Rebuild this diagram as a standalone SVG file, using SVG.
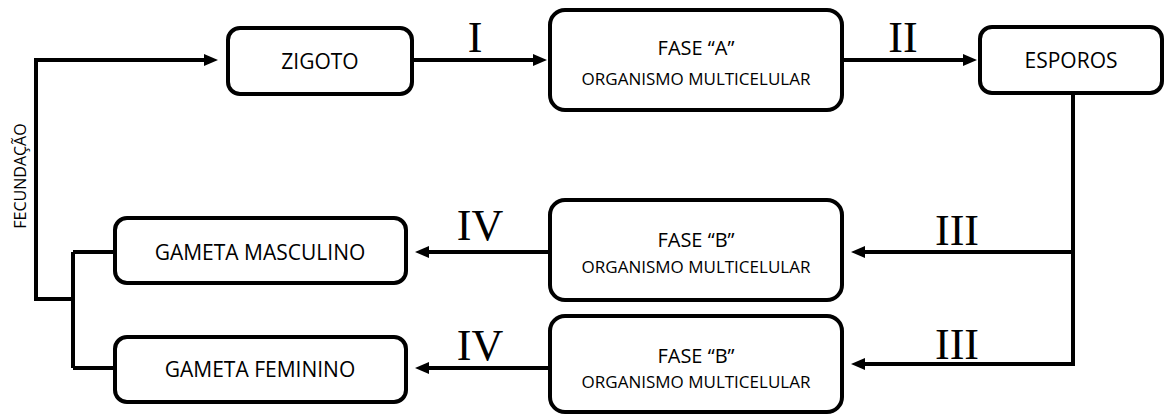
<svg xmlns="http://www.w3.org/2000/svg" width="1165" height="414" viewBox="0 0 1165 414">
<style>
.box{fill:#fff;stroke:#000;stroke-width:4}
.t{font-family:"Open Sans","Noto Sans",sans-serif;fill:#000;text-anchor:middle}
.big{font-size:21px}
.mid{font-size:20px}
.small{font-size:17px}
.rn{font-family:"Liberation Serif","Times New Roman",serif;font-size:44px;fill:#000;text-anchor:middle}
.c{fill:none;stroke:#000;stroke-width:4;stroke-linejoin:miter}
.a{marker-end:url(#arr)}
</style>
<defs>
<marker id="arr" markerUnits="userSpaceOnUse" markerWidth="14" markerHeight="12" refX="6" refY="6" orient="auto" overflow="visible">
<path d="M0,0 L14,6 L0,12 z" fill="#000"/>
</marker>
</defs>
<rect width="1165" height="414" fill="#fff"/>
<g id="connectors">
<path class="c a" d="M73,299 H36 V60 H210"/>
<path class="c" d="M73,252 V368"/>
<path class="c" d="M73,252 H115"/>
<path class="c" d="M73,368 H115"/>
<path class="c a" d="M412,60 H539"/>
<path class="c a" d="M842,60 H969"/>
<path class="c a" d="M1073,93 V364 H859"/>
<path class="c a" d="M1073,252 H859"/>
<path class="c a" d="M550,252 H423"/>
<path class="c a" d="M550,368 H423"/>
</g>
<g id="labels">
<text class="rn" x="475" y="52">I</text>
<text class="rn" x="903" y="52">II</text>
<text class="rn" x="957" y="245">III</text>
<text class="rn" x="957" y="359">III</text>
<text class="rn" x="480" y="240">IV</text>
<text class="rn" x="480" y="360">IV</text>
<text class="t" font-size="16" transform="translate(26,176) rotate(-90)">FECUNDAÇÃO</text>
</g>
<g id="zigoto">
<rect class="box" x="228" y="28" width="184" height="66" rx="12"/>
<text class="t big" x="320" y="69">ZIGOTO</text>
</g>
<g id="faseA">
<rect class="box" x="550" y="10" width="292" height="100" rx="15"/>
<text class="t mid" x="696" y="55">FASE “A”</text>
<text class="t small" x="696" y="85">ORGANISMO MULTICELULAR</text>
</g>
<g id="esporos">
<rect class="box" x="980" y="27" width="182" height="66" rx="12"/>
<text class="t big" x="1071" y="68">ESPOROS</text>
</g>
<g id="faseB1">
<rect class="box" x="550" y="200" width="292" height="100" rx="15"/>
<text class="t mid" x="696" y="247">FASE “B”</text>
<text class="t small" x="696" y="273">ORGANISMO MULTICELULAR</text>
</g>
<g id="faseB2">
<rect class="box" x="550" y="316" width="292" height="96" rx="15"/>
<text class="t mid" x="696" y="363">FASE “B”</text>
<text class="t small" x="696" y="388">ORGANISMO MULTICELULAR</text>
</g>
<g id="gametaMasculino">
<rect class="box" x="115" y="218" width="291" height="65" rx="12"/>
<text class="t big" x="260" y="260">GAMETA MASCULINO</text>
</g>
<g id="gametaFeminino">
<rect class="box" x="115" y="337" width="291" height="65" rx="12"/>
<text class="t big" x="260" y="377">GAMETA FEMININO</text>
</g>
</svg>
